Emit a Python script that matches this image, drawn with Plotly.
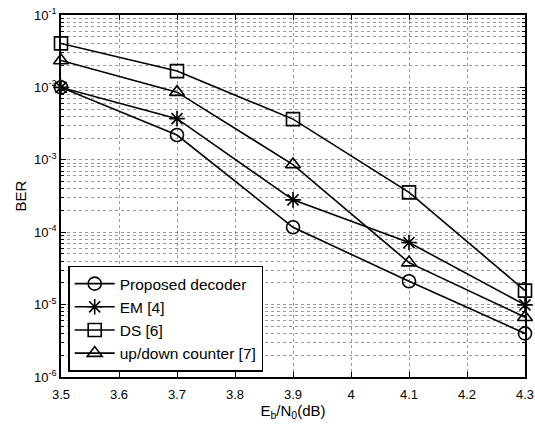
import plotly.graph_objects as go

x = [3.5, 3.7, 3.9, 4.1, 4.3]
proposed = [1.0e-2, 2.2e-3, 1.17e-4, 2.1e-5, 4.0e-6]
em = [1.0e-2, 3.7e-3, 2.8e-4, 7.2e-5, 9.9e-6]
ds = [4.05e-2, 1.68e-2, 3.65e-3, 3.55e-4, 1.56e-5]
updown = [2.35e-2, 8.6e-3, 8.6e-4, 3.8e-5, 6.7e-6]

names = ["Proposed decoder", "EM [4]", "DS [6]", "up/down counter [7]"]
symbols = ["circle-open", "asterisk-open", "square-open", "triangle-up-open"]
series = [proposed, em, ds, updown]

xticks = [3.5, 3.6, 3.7, 3.8, 3.9, 4.0, 4.1, 4.2, 4.3]
xticktext = ["3.5", "3.6", "3.7", "3.8", "3.9", "4", "4.1", "4.2", "4.3"]
yticks = [1e-6, 1e-5, 1e-4, 1e-3, 1e-2, 1e-1]
yticktext = ["10<sup>-6</sup>", "10<sup>-5</sup>", "10<sup>-4</sup>", "10<sup>-3</sup>", "10<sup>-2</sup>", "10<sup>-1</sup>"]
yminor = [m * d for d in [1e-6, 1e-5, 1e-4, 1e-3, 1e-2] for m in range(2, 10)]

fig = go.Figure()
for name, sym, y in zip(names, symbols, series):
    fig.add_trace(go.Scatter(
        x=x, y=y, name=name, mode="lines+markers",
        line=dict(color="black", width=1.6),
        marker=dict(symbol=sym, size=13, color="black", line=dict(width=1.6, color="black")),
        cliponaxis=False,
    ))

grid = "rgba(110,110,110,0.7)"
fig.update_layout(
    width=535, height=427,
    margin=dict(l=61, r=10, t=15, b=50),
    paper_bgcolor="white", plot_bgcolor="white",
    font=dict(family="Liberation Sans, Arial, sans-serif", size=13, color="black"),
    showlegend=True,
    legend=dict(
        x=0.0155, y=0.015, xanchor="left", yanchor="bottom",
        bgcolor="white", bordercolor="black", borderwidth=1.5,
        font=dict(size=15.5), tracegroupgap=0, itemwidth=40,
    ),
    xaxis=dict(
        range=[3.5, 4.3], tickvals=xticks, ticktext=xticktext,
        showgrid=True, gridcolor=grid, griddash="dot", gridwidth=1,
        showline=True, linecolor="black", linewidth=1.5, mirror="allticks",
        ticks="inside", ticklen=5, tickcolor="black",
        tickfont=dict(size=13), automargin=False, ticklabelstandoff=5,
        title=dict(text="E<sub>b</sub>/N<sub>0</sub>(dB)", font=dict(size=15), standoff=0),
        zeroline=False,
    ),
    yaxis=dict(
        type="log", range=[-6, -1], tickvals=yticks, ticktext=yticktext,
        showgrid=True, gridcolor=grid, griddash="dot", gridwidth=1,
        showline=True, linecolor="black", linewidth=1.5, mirror="allticks",
        ticks="inside", ticklen=5, tickcolor="black",
        tickfont=dict(size=13), automargin=False,
        title=dict(text="BER", font=dict(size=15), standoff=4),
        minor=dict(tickvals=yminor, showgrid=True, gridcolor=grid, griddash="dot",
                   ticks="inside", ticklen=3, tickcolor="black"),
        zeroline=False,
    ),
)

fig.write_html("out.html", config={"displayModeBar": False},
               post_script="document.body.style.margin='0';")
